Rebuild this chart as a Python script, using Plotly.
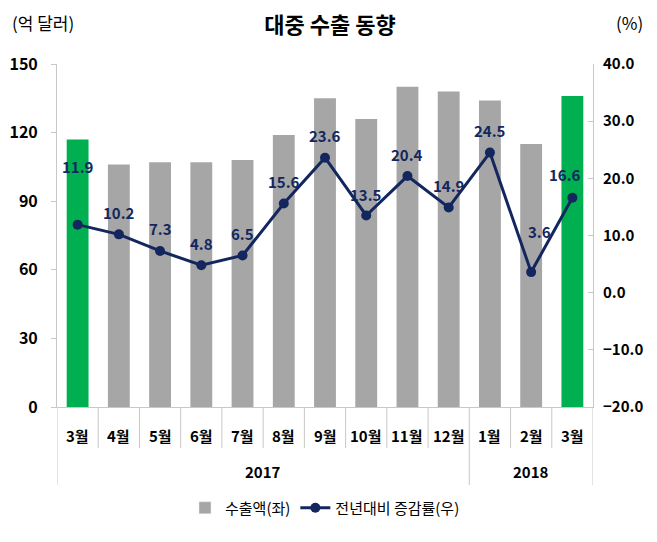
import plotly.graph_objects as go

months = ["3월", "4월", "5월", "6월", "7월", "8월", "9월", "10월", "11월", "12월", "1월", "2월", "3월"]
years = ["2017", "2018"]
year_counts = [10, 3]
exports = [117, 106, 107, 107, 108, 119, 135, 126, 140, 138, 134, 115, 136]
growth = [11.9, 10.2, 7.3, 4.8, 6.5, 15.6, 23.6, 13.5, 20.4, 14.9, 24.5, 3.6, 16.6]
highlight = [True, False, False, False, False, False, False, False, False, False, False, False, True]

# label offsets (style)
label_dy = [58, 22, 22, 22, 22, 22, 22, 21, 22, 22, 22, 41, 23]
label_dx = [0, 0, 0, 0, 0, 0, 0, 0, 0, 0, 0, 8, -7]

FONT = "Noto Sans CJK KR"
NAVY = "#13275e"
GRAY = "#a6a6a6"
GREEN = "#00b050"
LINE = "#c8c8c8"

# page body has an 8px margin; the figure is laid out in (reference - 8) coordinates
W, H = 649, 534
L, T = 57 - 8, 64 - 8
R = W - (593 - 8)
B = H - (407 - 8)

xs = list(range(len(months)))
bar_colors = [GREEN if h else GRAY for h in highlight]

fig = go.Figure()
fig.add_trace(go.Bar(
    x=xs, y=exports, name="수출액(좌)", marker=dict(color=bar_colors, line=dict(width=0)),
    width=0.53, yaxis="y", showlegend=False,
))
fig.add_trace(go.Bar(x=[None], y=[None], name="수출액(좌)", marker=dict(color=GRAY), yaxis="y"))
fig.add_trace(go.Scatter(
    x=xs, y=growth, name="전년대비 증감률(우)", mode="lines+markers", yaxis="y2",
    line=dict(color=NAVY, width=3), marker=dict(color=NAVY, size=10),
))

annotations = []
for i, v in enumerate(growth):
    annotations.append(dict(
        x=i, y=v, xref="x", yref="y2", text=f"{v:.1f}", showarrow=False,
        xshift=label_dx[i], yshift=label_dy[i], xanchor="center", yanchor="middle",
        font=dict(family=FONT, size=15, color=NAVY, weight="bold"),
    ))
for i, m in enumerate(months):
    annotations.append(dict(
        x=i, y=0, xref="x", yref="paper", text=m, showarrow=False, yshift=-28,
        xanchor="center", yanchor="middle",
        font=dict(family=FONT, size=15, color="#000000", weight="bold"),
    ))
start = 0
for yr, cnt in zip(years, year_counts):
    center = start + (cnt - 1) / 2
    annotations.append(dict(
        x=center, y=0, xref="x", yref="paper", text=yr, showarrow=False, yshift=-64,
        xanchor="center", yanchor="middle",
        font=dict(family=FONT, size=15, color="#000000", weight="bold"),
    ))
    start += cnt

annotations.append(dict(x=-0.0877, y=1.1224, xref="paper", yref="paper", text="(억 달러)",
                        showarrow=False, xanchor="left", yanchor="middle",
                        font=dict(family=FONT, size=17, color="#000000")))
annotations.append(dict(x=1.069, y=1.1224, xref="paper", yref="paper", text="(%)",
                        showarrow=False, xanchor="center", yanchor="middle",
                        font=dict(family=FONT, size=17, color="#000000")))

shapes = []
short_y = -(448 - 407) / 343
long_y = -(485 - 407) / 343
boundaries = [0]
for c in year_counts:
    boundaries.append(boundaries[-1] + c)
for k in range(len(months) + 1):
    xb = k - 0.5
    y1 = long_y if k in boundaries else short_y
    shapes.append(dict(type="line", xref="x", yref="paper", x0=xb, x1=xb, y0=0, y1=y1,
                       line=dict(color=LINE, width=1)))

fig.update_layout(
    width=W, height=H,
    margin=dict(l=L, r=R, t=T, b=B, autoexpand=False),
    paper_bgcolor="white", plot_bgcolor="white",
    title=dict(text="대중 수출 동향", x=(330 - 8) / W, xanchor="center", y=1 - 17 / H, yanchor="middle",
               font=dict(family=FONT, size=22, color="#000000", weight="bold")),
    xaxis=dict(range=[-0.5, 12.5], showticklabels=False, ticks="", showgrid=False,
               zeroline=False, showline=True, linecolor=LINE, linewidth=1),
    yaxis=dict(range=[0, 150], tickvals=[0, 30, 60, 90, 120, 150], showgrid=False, zeroline=False,
               showline=True, linecolor=LINE, linewidth=1, ticks="outside", ticklen=5, tickcolor=LINE,
               ticklabelstandoff=10,
               tickfont=dict(family=FONT, size=16, color="#000000", weight="bold")),
    yaxis2=dict(range=[-20, 40], tickvals=[-20, -10, 0, 10, 20, 30, 40], tickformat=".1f",
                overlaying="y", side="right", showgrid=False, zeroline=False,
                showline=True, linecolor=LINE, linewidth=1, ticks="inside", ticklen=5, tickcolor=LINE,
                ticklabelstandoff=6,
                tickfont=dict(family=FONT, size=15, color="#000000", weight="bold")),
    legend=dict(orientation="h", x=0.5, xanchor="center", y=-(508 - 407) / 343, yanchor="middle",
                font=dict(family=FONT, size=15, color="#000000"), traceorder="normal",
                itemwidth=30),
    bargap=0.47,
    annotations=annotations,
    shapes=shapes,
)

fig.write_html("out.html")
